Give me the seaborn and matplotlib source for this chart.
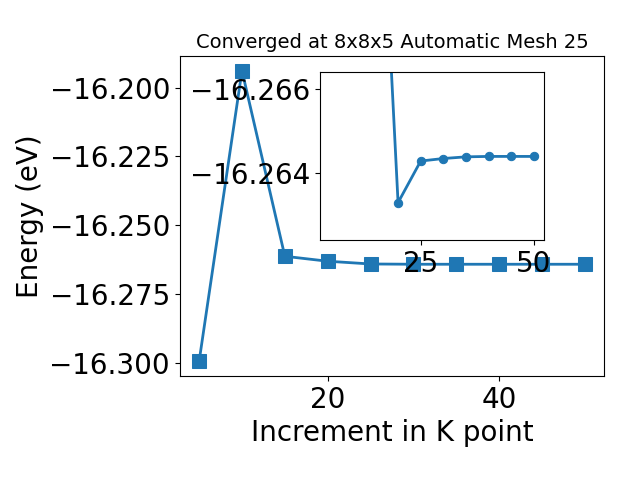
import matplotlib
matplotlib.use("Agg")
import matplotlib.pyplot as plt
import seaborn as sns

# k-point convergence data
kpoints = [5, 10, 15, 20, 25, 30, 35, 40, 45, 50]
energy = [-16.2995, -16.1938, -16.2613, -16.2631, -16.2641,
          -16.2642, -16.2642, -16.2642, -16.2642, -16.2642]

# zoomed-in series shown in the inset
inset_kpoints = [15, 20, 25, 30, 35, 40, 45, 50]
inset_energy = [-16.2739, -16.26329, -16.26428, -16.26434,
                -16.26438, -16.26439, -16.26439, -16.26439]

title = "Converged at 8x8x5 Automatic Mesh 25"
color = "#1f77b4"

plt.rcParams["font.size"] = 20

fig = plt.figure(figsize=(6.4, 4.8), dpi=100)
ax = fig.add_axes([0.281, 0.217, 0.663, 0.666])

# Main curve
sns.lineplot(x=kpoints, y=energy, ax=ax, color=color, linewidth=2,
             marker="s", markersize=10, markeredgecolor=color)
ax.set_xticks([20, 40])
ax.set_yticks([-16.300, -16.275, -16.250, -16.225, -16.200])
ax.set_xlabel("Increment in K point", fontsize=20)
ax.set_ylabel("Energy (eV)", fontsize=20)
ax.set_title(title, fontsize=14)

# Inset with the converged region
ax_in = fig.add_axes([0.5, 0.5, 0.35, 0.35])
sns.lineplot(x=inset_kpoints, y=inset_energy, ax=ax_in, color=color,
             linewidth=2, marker="o", markersize=6, markeredgecolor=color)
ax_in.set_xlim(2.75, 52.25)
ax_in.set_ylim(-16.2624, -16.2664)
ax_in.set_xticks([25, 50])
ax_in.set_yticks([-16.266, -16.264])
ax_in.ticklabel_format(axis="y", useOffset=False)
ax_in.set_xlabel("")
ax_in.set_ylabel("")

fig.savefig("out.png", dpi=100)
